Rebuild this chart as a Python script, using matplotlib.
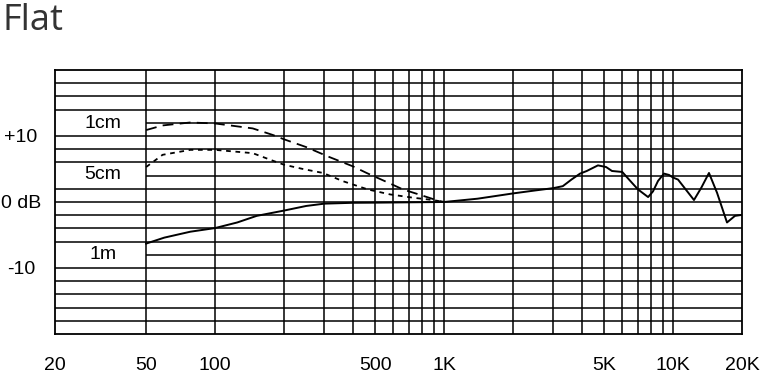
import matplotlib
matplotlib.use("Agg")
import matplotlib.pyplot as plt

# --- donnees ---
freq_1m = [50, 60, 78, 100, 125, 152, 200, 250, 300, 400, 500, 700, 1000, 1400, 2000,
           2500, 3000, 3300, 3600, 3924, 4200, 4700, 5100, 5410, 6000, 6500, 7030, 7780,
           8170, 8600, 9130, 9600, 10000, 10510, 11300, 12340, 13300, 14350, 15560,
           17200, 18640, 20000]
db_1m = [-6.3, -5.4, -4.5, -3.95, -3.1, -2.1, -1.3, -0.6, -0.25, -0.12, -0.1, -0.05, 0,
         0.5, 1.3, 1.75, 2.1, 2.4, 3.4, 4.3, 4.7, 5.55, 5.3, 4.7, 4.55, 3.2, 1.9, 0.75,
         1.6, 3.2, 4.3, 4.1, 3.7, 3.4, 2.0, 0.3, 2.2, 4.4, 1.4, -3.1, -2.1, -1.95]

freq_1cm = [50, 59, 78, 100, 146, 179, 200, 251, 311, 400, 459, 552, 662, 800, 932, 1000]
db_1cm = [10.9, 11.6, 12.05, 11.9, 11.15, 10.15, 9.5, 8.3, 6.9, 5.4, 4.4, 3.15, 1.9, 1.0, 0.25, 0]

freq_5cm = [50, 59, 78, 100, 146, 179, 200, 242, 296, 362, 465, 581, 732, 895, 1000]
db_5cm = [5.3, 7.15, 7.9, 7.9, 7.4, 6.25, 5.65, 5.0, 4.4, 3.15, 1.9, 1.15, 0.65, 0.3, 0]

series_labels = ["1cm", "5cm", "1m"]
label_x = [32.4, 32.4, 32.4]
label_y = [11.9, 4.1, -8.0]

x_ticks = [20, 50, 100, 500, 1000, 5000, 10000, 20000]
x_ticklabels = ["20", "50", "100", "500", "1K", "5K", "10K", "20K"]
x_grid = [50, 100, 200, 300, 400, 500, 600, 700, 800, 900, 1000,
          2000, 3000, 4000, 5000, 6000, 7000, 8000, 9000, 10000]
y_ticks = [-10, 0, 10]
y_ticklabels = ["-10", "0 dB", "+10"]
# lignes horizontales (tous les 2 dB) ; celles derriere les etiquettes partent de 50 Hz
y_grid_short = [12, 4, -8]
y_grid = [v for v in range(-18, 20, 2) if v not in y_grid_short]

plt.rcParams['font.family'] = ['Liberation Sans', 'DejaVu Sans']

fig = plt.figure(figsize=(7.62, 3.74), dpi=100)
ax = fig.add_axes([55 / 762, 1 - 334 / 374, 687 / 762, 264 / 374])

ax.set_xscale('log')
ax.set_xlim(20, 20000)
ax.set_ylim(-20, 20)

ax.set_xticks(x_ticks)
ax.set_xticklabels(x_ticklabels)
ax.xaxis.set_minor_locator(plt.NullLocator())
ax.set_yticks(y_ticks)
ax.set_yticklabels(y_ticklabels)

ax.vlines(x_grid, -20, 20, color='black', linewidth=1.1, zorder=1)
ax.hlines(y_grid, 20, 20000, color='black', linewidth=1.1, zorder=1)
ax.hlines(y_grid_short, 50, 20000, color='black', linewidth=1.1, zorder=1)

ax.tick_params(which='both', length=0)
ax.tick_params(axis='x', pad=16.5, labelsize=14)
ax.tick_params(axis='y', pad=24.5, labelsize=14)
for lbl in ax.get_yticklabels():
    lbl.set_horizontalalignment('center')

for sp in ax.spines.values():
    sp.set_linewidth(1.3)
    sp.set_color('black')

ax.plot(freq_1cm, db_1cm, color='black', linewidth=1.3, dashes=(6, 3.5), zorder=3)
ax.plot(freq_5cm, db_5cm, color='black', linewidth=1.3, dashes=(2.6, 2.6), zorder=3)
ax.plot(freq_1m, db_1m, color='black', linewidth=1.4, zorder=3)

for txt, lx, ly in zip(series_labels, label_x, label_y):
    ax.text(lx, ly, txt, fontsize=14, ha='center', va='center')

fig.text(2 / 762, 1 - 3 / 374, "Flat", fontsize=26, color='#333333',
         family=['Open Sans', 'DejaVu Sans'], ha='left', va='top')

fig.savefig("out.png", dpi=100)
